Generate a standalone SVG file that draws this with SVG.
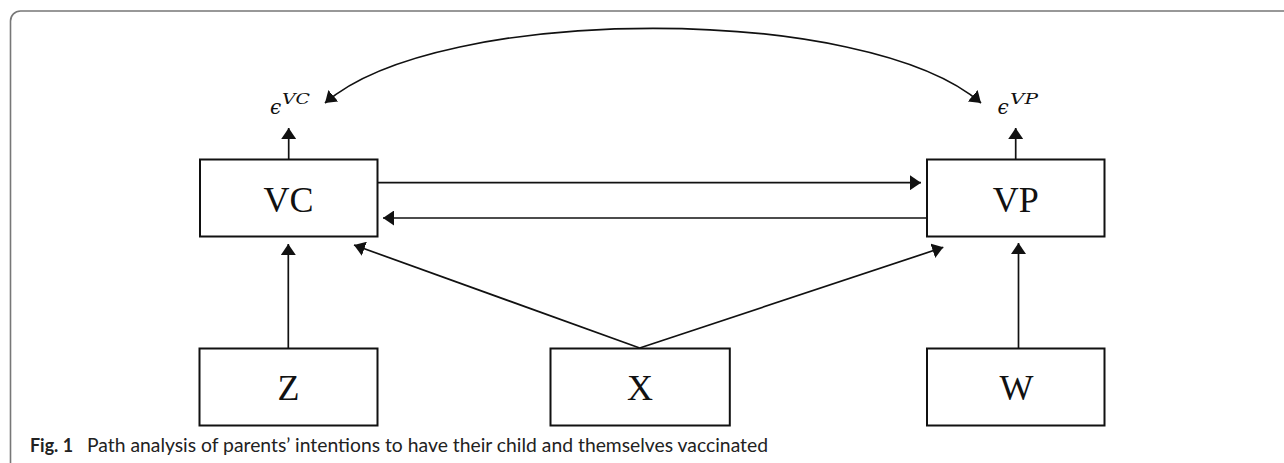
<svg xmlns="http://www.w3.org/2000/svg" width="1284" height="463" viewBox="0 0 1284 463">
<style>
.box{fill:#fff;stroke:#111;stroke-width:2}
.lbl{font-family:"Liberation Serif","Times New Roman",serif;font-size:36px;fill:#111;text-anchor:middle}
.edge{fill:none;stroke:#111;stroke-width:1.7}
.eps{font-family:"DejaVu Serif","Liberation Serif",serif;font-style:italic;font-size:20px;fill:#111}
.sup{font-family:"DejaVu Serif","Liberation Serif",serif;font-style:italic;font-size:14px;fill:#111}
.cap{font-family:Lato,"Open Sans",sans-serif;font-size:19.5px;fill:#222}
</style>
<defs>
<marker id="ah" markerUnits="userSpaceOnUse" markerWidth="12" markerHeight="15" refX="11" refY="7.5" orient="auto-start-reverse">
<path d="M0,0 L11,7.5 L0,15 z" fill="#111"/>
</marker>
</defs>
<rect x="0" y="0" width="1284" height="463" fill="#fff"/>
<rect x="10.5" y="11" width="1320" height="520" rx="10" ry="10" fill="none" stroke="#777" stroke-width="1.6"/>

<g id="connectors">
<line class="edge" x1="288.7" y1="159" x2="288.7" y2="128" marker-end="url(#ah)"/>
<line class="edge" x1="1015.7" y1="159" x2="1015.7" y2="128" marker-end="url(#ah)"/>
<line class="edge" x1="288.3" y1="348" x2="288.3" y2="244" marker-end="url(#ah)"/>
<line class="edge" x1="1018.5" y1="348" x2="1018.5" y2="243" marker-end="url(#ah)"/>
<line class="edge" x1="378" y1="182.7" x2="921" y2="182.7" marker-end="url(#ah)"/>
<line class="edge" x1="927" y1="218" x2="383" y2="218" marker-end="url(#ah)"/>
<line class="edge" x1="639.7" y1="348" x2="354" y2="245" marker-end="url(#ah)"/>
<line class="edge" x1="639.7" y1="348" x2="943.3" y2="247.3" marker-end="url(#ah)"/>
<path class="edge" d="M325,103 C439.5,3.4 866.5,3.4 981,103" marker-start="url(#ah)" marker-end="url(#ah)"/>
</g>

<g id="eVC">
<text class="eps" x="270" y="113.5">ϵ</text>
<text class="sup" x="282" y="103.5" textLength="28" lengthAdjust="spacingAndGlyphs">VC</text>
</g>
<g id="eVP">
<text class="eps" x="997.5" y="113.5">ϵ</text>
<text class="sup" x="1010" y="103.5" textLength="28" lengthAdjust="spacingAndGlyphs">VP</text>
</g>

<g id="VC">
<rect class="box" x="200" y="159.5" width="177.5" height="77"/>
<text class="lbl" x="288.5" y="212">VC</text>
</g>
<g id="VP">
<rect class="box" x="927" y="159.5" width="177.5" height="77"/>
<text class="lbl" x="1015.7" y="212">VP</text>
</g>
<g id="Z">
<rect class="box" x="199.5" y="348.5" width="178" height="77"/>
<text class="lbl" x="288.5" y="400">Z</text>
</g>
<g id="X">
<rect class="box" x="550.5" y="348.5" width="179.3" height="77"/>
<text class="lbl" x="640" y="400">X</text>
</g>
<g id="W">
<rect class="box" x="927" y="348.5" width="177.5" height="77"/>
<text class="lbl" x="1016.5" y="400">W</text>
</g>

<g id="caption">
<text class="cap" x="30" y="451.5" font-weight="bold" textLength="43" lengthAdjust="spacingAndGlyphs">Fig. 1</text>
<text class="cap" x="87" y="451.5" textLength="681" lengthAdjust="spacingAndGlyphs">Path analysis of parents’ intentions to have their child and themselves vaccinated</text>
</g>
</svg>
